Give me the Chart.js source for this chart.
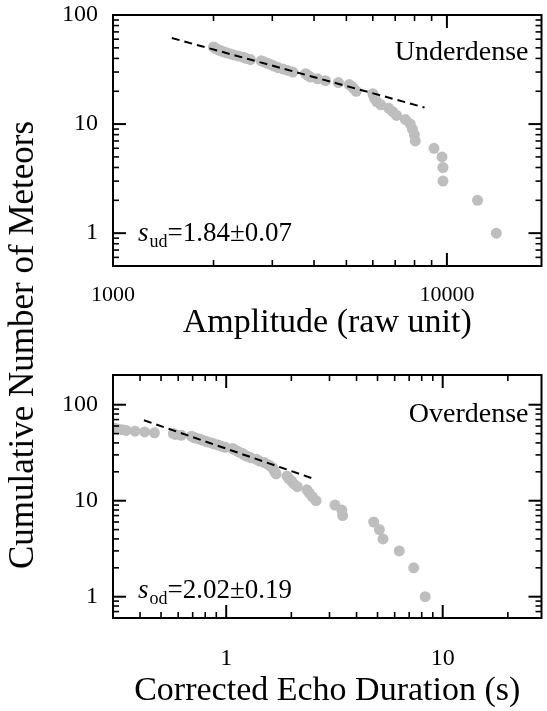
<!DOCTYPE html>
<html><head><meta charset="utf-8">
<script src="https://cdn.jsdelivr.net/npm/chart.js@4"></script>
<style>
html,body{margin:0;padding:0;background:#fff;}
#wrap{position:relative;width:547px;height:711px;overflow:hidden;background:#fff;}
canvas{position:absolute;left:0;}
#ytitle{position:absolute;left:22px;top:345px;transform:translate(-50%,-50%) rotate(-90deg);white-space:nowrap;font:35px "Liberation Serif";color:#000;}
</style></head><body>
<div id="wrap">
<canvas id="c1" width="547" height="355" style="top:0"></canvas>
<canvas id="c2" width="547" height="356" style="top:355px"></canvas>
<div id="ytitle">Cumulative Number of Meteors</div>
</div>
<script>
// ---- Underdense panel data ----
const amplitude = [14060, 12350, 9730, 9730, 9670, 9150, 8040, 7990, 7880, 7770, 7510, 7070, 6880, 6690, 6340, 6170, 6080, 6040, 6000, 5350, 5270, 5200, 5100, 4730, 4330, 4100, 3905, 3830, 3775, 3455, 3340, 3230, 3120, 3035, 2975, 2910, 2840, 2780, 2580, 2510, 2460, 2375, 2300, 2250, 2190, 2145, 2100, 2070, 2035, 2015, 2000];
const underCount = [1, 2, 3, 4, 5, 6, 7, 8, 9, 10, 11, 12, 13, 14, 15, 16, 17, 18, 19, 20, 21, 22, 23, 24, 25, 26, 27, 28, 29, 30, 31, 32, 33, 34, 35, 36, 37, 38, 39, 40, 41, 42, 43, 44, 45, 46, 47, 48, 49, 50, 51];
const underFitX = [1500, 8570];
const underFitY = [61.5, 14.2];

// ---- Overdense panel data ----
const duration = [8.3, 7.35, 6.3, 5.3, 5.1, 4.8, 3.45, 3.42, 3.18, 2.6, 2.5, 2.42, 2.36, 2.13, 2.05, 2.0, 1.95, 1.91, 1.70, 1.68, 1.66, 1.64, 1.6, 1.55, 1.5, 1.42, 1.38, 1.30, 1.25, 1.21, 1.19, 1.15, 1.12, 1.09, 1.07, 0.99, 0.95, 0.92, 0.88, 0.855, 0.82, 0.797, 0.77, 0.75, 0.72, 0.705, 0.69, 0.62, 0.581, 0.57, 0.466, 0.42, 0.379, 0.345, 0.33, 0.315, 0.305];
const overCount = [1, 2, 3, 4, 5, 6, 7, 8, 9, 10, 11, 12, 13, 14, 15, 16, 17, 18, 19, 20, 21, 22, 23, 24, 25, 26, 27, 28, 29, 30, 31, 32, 33, 34, 35, 36, 37, 38, 39, 40, 41, 42, 43, 44, 45, 46, 47, 48, 49, 50, 51, 52, 53, 54, 55, 56, 57];
const overFitX = [0.417, 2.58];
const overFitY = [68.8, 16.7];

// ---- tick values ----
const ampMajor = [1000, 10000];
const ampMinor = [2000, 3000, 4000, 5000, 6000, 7000, 8000, 9000];
const durMajor = [1, 10];
const durMinor = [0.4, 0.5, 0.6, 0.7, 0.8, 0.9, 2, 3, 4, 5, 6, 7, 8, 9, 20];
const countMajor = [1, 10, 100];
const countMinorTop = [0.6, 0.7, 0.8, 0.9, 2, 3, 4, 5, 6, 7, 8, 9, 20, 30, 40, 50, 60, 70, 80, 90];
const countMinorBot = [0.7, 0.8, 0.9, 2, 3, 4, 5, 6, 7, 8, 9, 20, 30, 40, 50, 60, 70, 80, 90];

const FONT = '"Liberation Serif", "DejaVu Serif", serif';
const GRAY = '#bebebe';

const boxTicks = {
  id: 'boxTicks',
  afterDraw(chart, args, o) {
    const {ctx, chartArea: a, scales: {x, y}} = chart;
    ctx.save();
    ctx.strokeStyle = '#000';
    ctx.lineCap = 'butt';
    const xt = (vals, len) => {
      vals.forEach(v => {
        const px = x.getPixelForValue(v);
        if (px < a.left - 0.5 || px > a.right + 0.5) return;
        ctx.beginPath(); ctx.moveTo(px, a.bottom); ctx.lineTo(px, a.bottom - len); ctx.stroke();
        ctx.beginPath(); ctx.moveTo(px, a.top); ctx.lineTo(px, a.top + len); ctx.stroke();
      });
    };
    const yt = (vals, len) => {
      vals.forEach(v => {
        const py = y.getPixelForValue(v);
        if (py < a.top - 0.5 || py > a.bottom + 0.5) return;
        ctx.beginPath(); ctx.moveTo(a.left, py); ctx.lineTo(a.left + len, py); ctx.stroke();
        ctx.beginPath(); ctx.moveTo(a.right, py); ctx.lineTo(a.right - len, py); ctx.stroke();
      });
    };
    ctx.lineWidth = 1.6;
    xt(o.xMinor, 6); yt(o.yMinor, 6);
    ctx.lineWidth = 2;
    xt(o.xMajor, 13); yt(o.yMajor, 13);
    ctx.lineWidth = 2;
    ctx.strokeRect(a.left, a.top, a.right - a.left, a.bottom - a.top);
    // annotations
    ctx.fillStyle = '#000';
    ctx.font = '28px ' + FONT;
    ctx.textAlign = 'right';
    ctx.textBaseline = 'alphabetic';
    ctx.fillText(o.label, a.right - 13, a.top + o.labelDy);
    ctx.textAlign = 'left';
    let tx = a.left + 25;
    const by = a.bottom - o.sDy;
    ctx.font = 'italic 27px ' + FONT;
    ctx.fillText('s', tx, by); tx += ctx.measureText('s').width + 1;
    ctx.font = '18px ' + FONT;
    ctx.fillText(o.sub, tx, by + 6); tx += ctx.measureText(o.sub).width;
    ctx.font = '27px ' + FONT;
    ctx.fillText(o.value, tx, by);
    ctx.restore();
  }
};

function makeChart(id, xs, ys, fx, fy, cfg) {
  const pts = xs.map((v, i) => ({x: v, y: ys[i]}));
  const fit = fx.map((v, i) => ({x: v, y: fy[i]}));
  return new Chart(document.getElementById(id), {
    type: 'scatter',
    data: {datasets: [
      {type: 'line', data: fit, borderColor: '#000', borderWidth: 2, borderDash: [8, 5], pointRadius: 0, fill: false},
      {data: pts, backgroundColor: GRAY, borderColor: GRAY, borderWidth: 0, pointRadius: 5.5, pointHoverRadius: 5.5}
    ]},
    options: {
      responsive: false, animation: false, devicePixelRatio: 1,
      layout: {padding: {top: cfg.padTop, right: 1, left: 0, bottom: 0}},
      plugins: {legend: {display: false}, tooltip: {enabled: false}, boxTicks: cfg.ticks},
      scales: {
        x: {
          type: 'logarithmic', position: 'bottom', min: cfg.xMin, max: cfg.xMax,
          grid: {display: false, drawTicks: false}, border: {display: false},
          afterBuildTicks: s => { s.ticks = cfg.ticks.xMajor.map(v => ({value: v})); },
          afterFit: s => { s.height = cfg.xHeight; s.paddingLeft = 0; s.paddingRight = 0; },
          ticks: {autoSkip: false, maxRotation: 0, padding: cfg.xTickPad, color: '#000', font: {family: FONT, size: cfg.xTickSize},
                  callback: v => String(v)},
          title: {display: true, text: cfg.xTitle, color: '#000', font: {family: FONT, size: 34}, padding: {top: 0, bottom: cfg.titlePad}}
        },
        y: {
          type: 'logarithmic', position: 'left', min: cfg.yMin, max: cfg.yMax,
          grid: {display: false, drawTicks: false}, border: {display: false},
          afterBuildTicks: s => { s.ticks = cfg.ticks.yMajor.map(v => ({value: v})); },
          afterFit: s => { s.width = 113; s.paddingTop = 0; s.paddingBottom = 0; },
          ticks: {autoSkip: false, padding: 15, color: '#000', font: {family: FONT, size: 24},
                  callback: v => String(v)}
        }
      }
    },
    plugins: [boxTicks]
  });
}

makeChart('c1', amplitude, underCount, underFitX, underFitY, {
  padTop: 15, xMin: 1000, xMax: 19200, yMin: 0.5, yMax: 100, xHeight: 89, xTickPad: 16, xTickSize: 22, titlePad: 12,
  xTitle: 'Amplitude (raw unit)',
  ticks: {xMajor: ampMajor, xMinor: ampMinor, yMajor: countMajor, yMinor: countMinorTop,
          label: 'Underdense', labelDy: 45, sub: 'ud', value: '=1.84\u00b10.07', sDy: 25}
});
makeChart('c2', duration, overCount, overFitX, overFitY, {
  padTop: 20, xMin: 0.3, xMax: 28.6, yMin: 0.62, yMax: 204, xHeight: 93, xTickPad: 26, xTickSize: 24, titlePad: 0,
  xTitle: 'Corrected Echo Duration (s)',
  ticks: {xMajor: durMajor, xMinor: durMinor, yMajor: countMajor, yMinor: countMinorBot,
          label: 'Overdense', labelDy: 47, sub: 'od', value: '=2.02\u00b10.19', sDy: 20}
});
</script>
</body></html>
